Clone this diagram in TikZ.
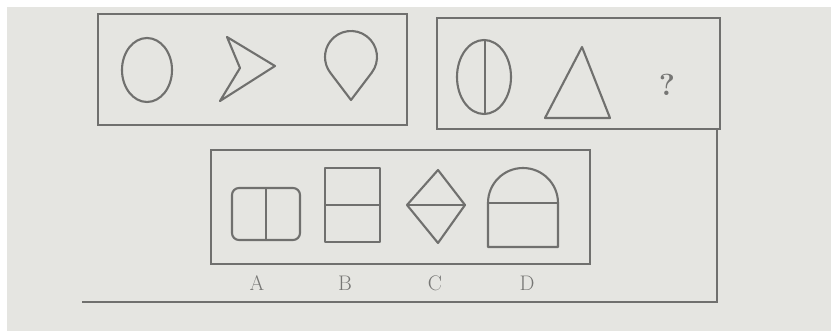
\documentclass[tikz,border=0pt]{standalone}
\usepackage{tikz}
\usetikzlibrary{positioning}
\definecolor{paper}{RGB}{229,229,225}
\definecolor{ink}{RGB}{112,112,110}
\definecolor{faint}{RGB}{118,118,116}

\begin{document}
\begin{tikzpicture}[x=0.03cm, y=0.03cm,
      frame/.style={draw=ink, line width=2.2pt},
      fig/.style={draw=ink, line width=1.8pt, line join=round},
      lbl/.style={font=\fontsize{18}{20}\selectfont, text=faint}
    ]
    \useasboundingbox (0,0) rectangle (831,331);
    \fill[white] (0,0) rectangle (831,331);
    \fill[paper] (7,0) rectangle (831,324);

    \draw[frame] (98,317) rectangle (407,206);
    \draw[frame] (437,313) rectangle (720,202);
    \draw[frame] (211,181) rectangle (590,67);
    \draw[frame] (82,29) -- (717,29) -- (717,202);

    \draw[fig] (147,261) ellipse [x radius=25, y radius=32];
    \draw[fig] (227,294) -- (275,265) -- (220,230) -- (240,263) -- cycle;
    \draw[fig] ([shift={(322.8:26)}]351,274) arc[start angle=322.8, end angle=577.2, radius=26] -- (351,231) -- cycle;

    \draw[fig] (484,254) ellipse [x radius=27, y radius=37];
    \draw[fig] (485,291) -- (485,217);
    \draw[fig] (582,284) -- (610,213) -- (545,213) -- cycle;
    \node[lbl, font=\fontsize{26}{28}\selectfont\bfseries] (query) at (667,246) {?};

    \draw[fig, rounded corners=6pt] (232,143) rectangle (300,91);
    \draw[fig] (266,143) -- (266,91);
    \draw[fig] (325,163) rectangle (380,89);
    \draw[fig] (325,126) -- (380,126);
    \draw[fig] (407,126) -- (438,161) -- (465,126) -- (438,88) -- cycle;
    \draw[fig] (407,126) -- (465,126);
    \draw[fig] (488,84) -- (488,128) arc[start angle=180, end angle=0, radius=35] -- (558,84) -- cycle;
    \draw[fig] (488,128) -- (558,128);

    \node[lbl] (optA) at (257,48) {A};
    \node[lbl] (optB) at (345,48) {B};
    \node[lbl] (optC) at (435,48) {C};
    \node[lbl] (optD) at (527,48) {D};
  \end{tikzpicture}
\end{document}
